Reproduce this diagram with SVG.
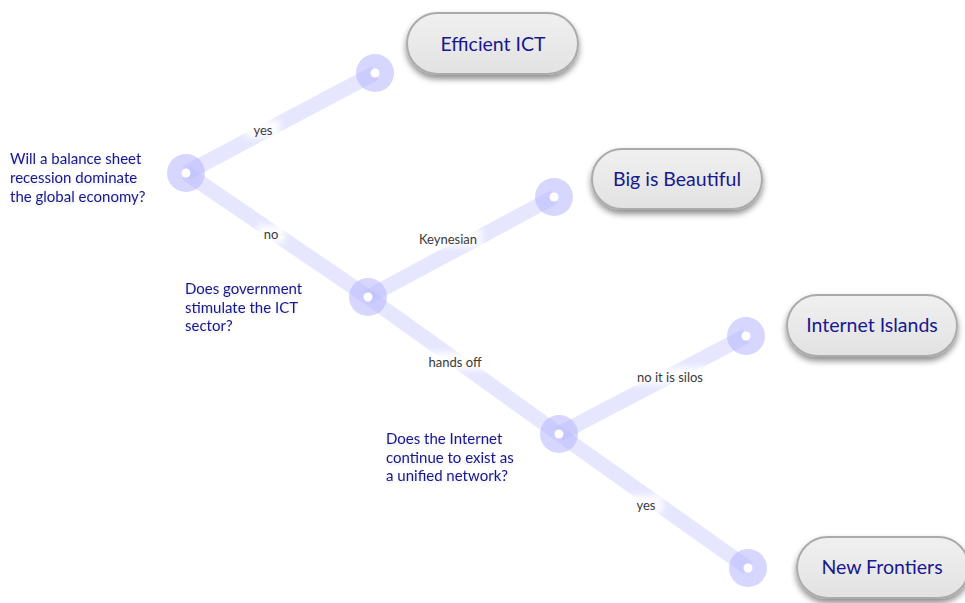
<svg xmlns="http://www.w3.org/2000/svg" width="965" height="603" viewBox="0 0 965 603">
<defs>
<linearGradient id="pillg" x1="0" y1="0" x2="0" y2="1">
<stop offset="0" stop-color="#f0f0f0"/>
<stop offset="1" stop-color="#e2e2e2"/>
</linearGradient>
<filter id="shadow" x="-20%" y="-30%" width="140%" height="180%">
<feGaussianBlur in="SourceAlpha" stdDeviation="3"/>
<feOffset dx="0" dy="4" result="b"/>
<feComponentTransfer><feFuncA type="linear" slope="0.45"/></feComponentTransfer>
<feMerge><feMergeNode/><feMergeNode in="SourceGraphic"/></feMerge>
</filter>
<filter id="halo" x="-30%" y="-60%" width="160%" height="220%">
<feGaussianBlur stdDeviation="3"/>
</filter>
<filter id="tshadow" x="-10%" y="-10%" width="120%" height="130%">
<feGaussianBlur in="SourceAlpha" stdDeviation="1.5"/>
<feOffset dx="0" dy="2" result="b"/>
<feComponentTransfer><feFuncA type="linear" slope="0.12"/></feComponentTransfer>
<feMerge><feMergeNode/><feMergeNode in="SourceGraphic"/></feMerge>
</filter>
</defs>
<style>
.edge{stroke:#c4c4ff;stroke-width:15;stroke-opacity:0.42;fill:none}
.dot{fill:#b4b4ff;fill-opacity:0.55}
.hole{fill:#ffffff}
.pill{fill:url(#pillg);stroke:#ababab;stroke-width:2}
.ptxt{font-family:Lato,"Open Sans","Liberation Sans",sans-serif;font-size:19.5px;fill:#18188f;text-anchor:middle}
.q{font-family:Lato,"Open Sans","Liberation Sans",sans-serif;font-size:15px;fill:#18188f}
.el{font-family:Lato,"Open Sans","Liberation Sans",sans-serif;font-size:13px;font-weight:400;fill:#3a3a3a;text-anchor:middle}
.hb{fill:#ffffff;opacity:0.9}
</style>
<rect width="965" height="603" fill="#ffffff"/>
<g id="connectors">
<line class="edge" x1="186" y1="173" x2="375" y2="73"/>
<line class="edge" x1="186" y1="173" x2="368" y2="297"/>
<line class="edge" x1="368" y1="297" x2="554" y2="197"/>
<line class="edge" x1="368" y1="297" x2="559" y2="434"/>
<line class="edge" x1="559" y1="434" x2="746" y2="336"/>
<line class="edge" x1="559" y1="434" x2="748" y2="568"/>
<g id="edge-labels">
<rect class="hb" x="246" y="120" width="34" height="18" filter="url(#halo)"/>
<text class="el" x="263" y="135">yes</text>
<rect class="hb" x="257" y="225" width="28" height="18" filter="url(#halo)"/>
<text class="el" x="271" y="239">no</text>
<rect class="hb" x="414" y="229" width="68" height="18" filter="url(#halo)"/>
<text class="el" x="448" y="244">Keynesian</text>
<rect class="hb" x="422" y="352" width="66" height="18" filter="url(#halo)"/>
<text class="el" x="455" y="367">hands off</text>
<rect class="hb" x="630" y="367" width="80" height="18" filter="url(#halo)"/>
<text class="el" x="670" y="382">no it is silos</text>
<rect class="hb" x="629" y="495" width="34" height="18" filter="url(#halo)"/>
<text class="el" x="646" y="510">yes</text>
</g>
</g>
<g id="q1">
<circle class="dot" cx="186" cy="173" r="19"/>
<circle class="hole" cx="186" cy="173" r="4.5"/>
<text class="q" filter="url(#tshadow)"><tspan x="10" y="164">Will a balance sheet</tspan><tspan x="10" y="183">recession dominate</tspan><tspan x="10" y="202">the global economy?</tspan></text>
</g>
<g id="q2">
<circle class="dot" cx="368" cy="297" r="19"/>
<circle class="hole" cx="368" cy="297" r="4.5"/>
<text class="q" filter="url(#tshadow)"><tspan x="185" y="294">Does government</tspan><tspan x="185" y="313">stimulate the ICT</tspan><tspan x="185" y="331">sector?</tspan></text>
</g>
<g id="q3">
<circle class="dot" cx="559" cy="434" r="19"/>
<circle class="hole" cx="559" cy="434" r="4.5"/>
<text class="q" filter="url(#tshadow)"><tspan x="386" y="444">Does the Internet</tspan><tspan x="386" y="463">continue to exist as</tspan><tspan x="386" y="481">a unified network?</tspan></text>
</g>
<g id="end1">
<circle class="dot" cx="375" cy="73" r="19"/>
<circle class="hole" cx="375" cy="73" r="4.5"/>
</g>
<g id="end2">
<circle class="dot" cx="554" cy="197" r="19"/>
<circle class="hole" cx="554" cy="197" r="4.5"/>
</g>
<g id="end3">
<circle class="dot" cx="746" cy="336" r="19"/>
<circle class="hole" cx="746" cy="336" r="4.5"/>
</g>
<g id="end4">
<circle class="dot" cx="748" cy="568" r="19"/>
<circle class="hole" cx="748" cy="568" r="4.5"/>
</g>
<g id="efficient-ict">
<rect class="pill" x="407" y="13" width="171" height="61" rx="30.5" filter="url(#shadow)"/>
<text class="ptxt" x="493" y="50.5">Efficient ICT</text>
</g>
<g id="big-is-beautiful">
<rect class="pill" x="592" y="149" width="170" height="60" rx="30" filter="url(#shadow)"/>
<text class="ptxt" x="677" y="186">Big is Beautiful</text>
</g>
<g id="internet-islands">
<rect class="pill" x="787" y="295" width="170" height="61" rx="30.5" filter="url(#shadow)"/>
<text class="ptxt" x="872" y="332">Internet Islands</text>
</g>
<g id="new-frontiers">
<rect class="pill" x="797" y="537" width="172" height="61" rx="30.5" filter="url(#shadow)"/>
<text class="ptxt" x="882" y="574">New Frontiers</text>
</g>
</svg>
